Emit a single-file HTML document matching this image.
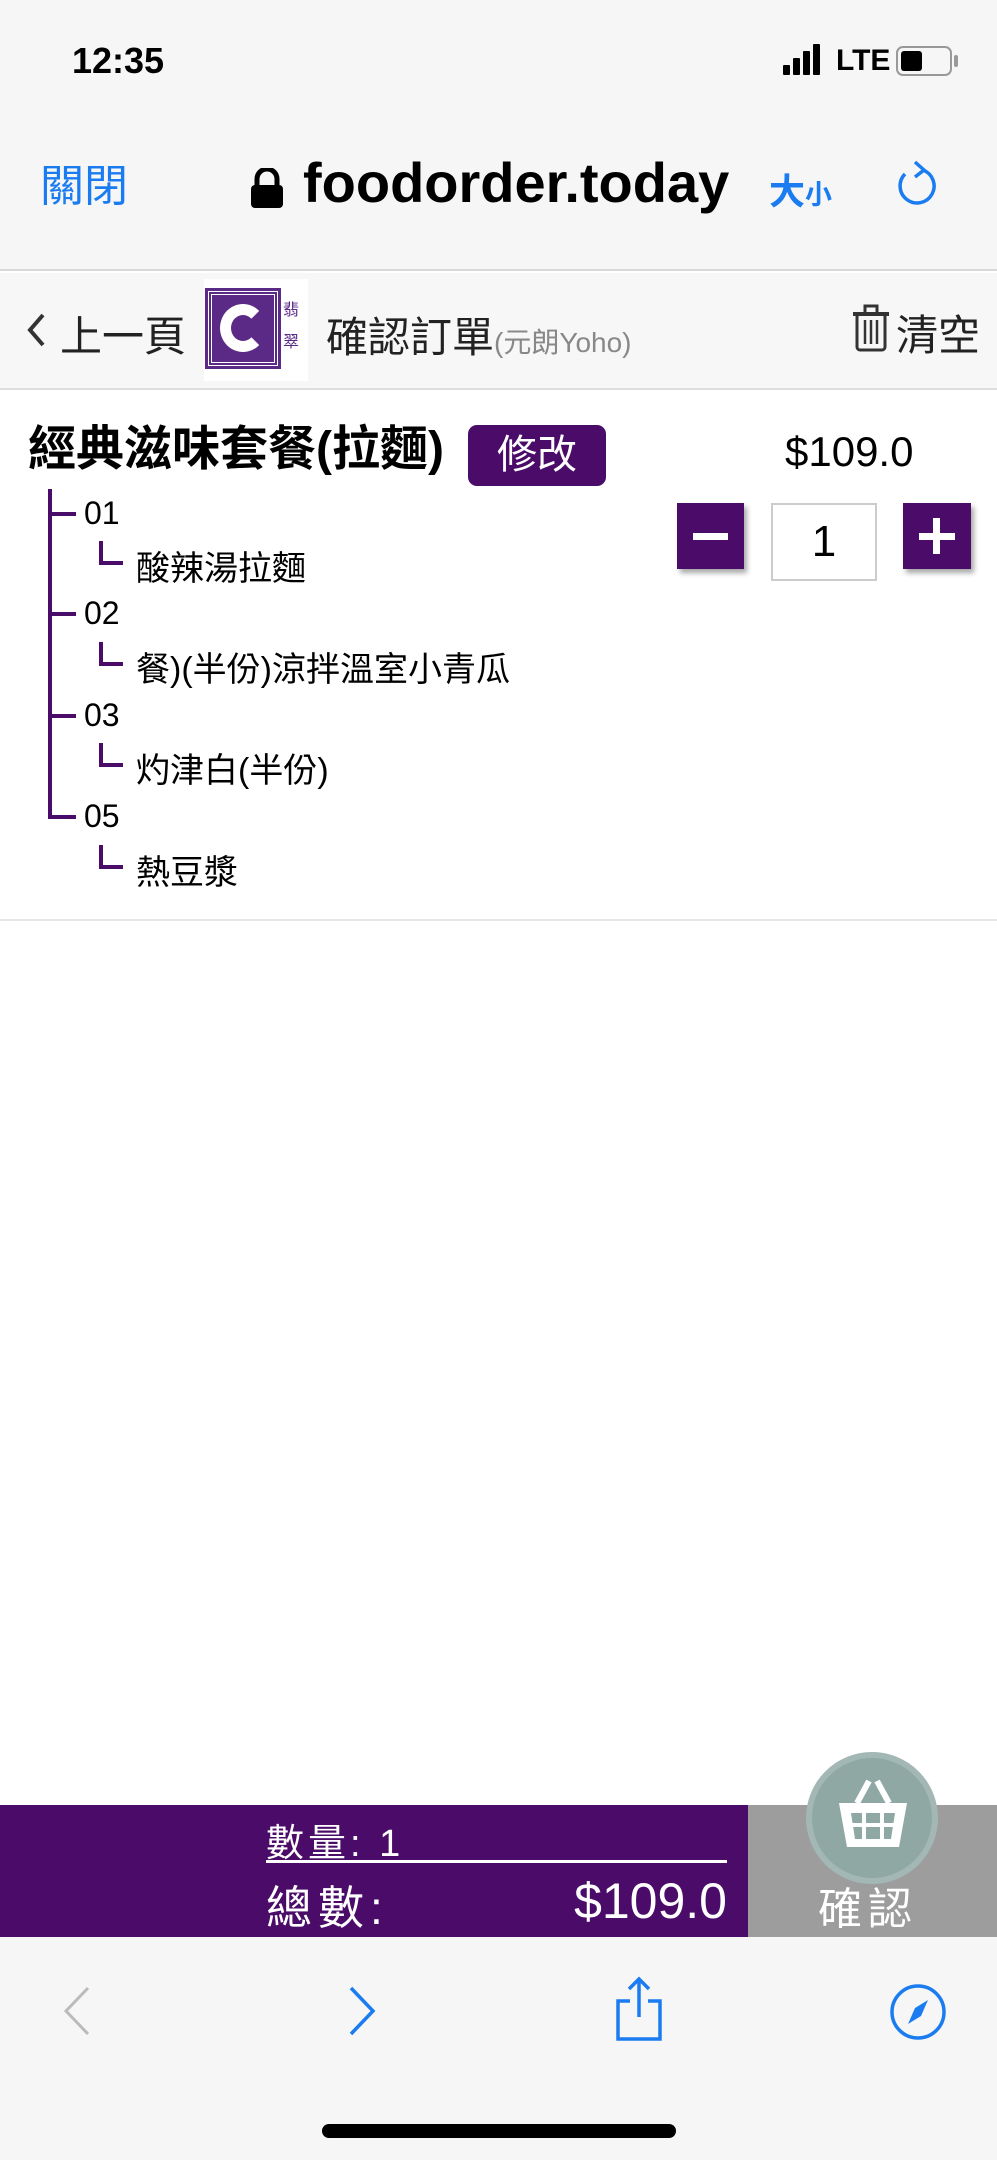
<!DOCTYPE html>
<html><head><meta charset="utf-8"><style>
*{margin:0;padding:0;box-sizing:border-box}
body{width:997px;height:2160px;position:relative;background:#fff;font-family:"Liberation Sans","Noto Sans CJK TC",sans-serif;overflow:hidden;color:#000}
.a{position:absolute;white-space:nowrap}
</style></head><body>
<div class="a" style="left:0;top:0;width:997px;height:271px;background:#f6f6f6;border-bottom:2px solid #d8d8d8"></div>
<div class="a" style="left:72px;top:40px;font-size:36px;font-weight:bold;">12:35</div>
<div class="a" style="left:783px;top:65px;width:7px;height:10px;background:#000;border-radius:1px"></div>
<div class="a" style="left:793px;top:58px;width:7px;height:17px;background:#000;border-radius:1px"></div>
<div class="a" style="left:803px;top:51px;width:7px;height:24px;background:#000;border-radius:1px"></div>
<div class="a" style="left:813px;top:44px;width:7px;height:31px;background:#000;border-radius:1px"></div>
<div class="a" style="left:836px;top:44px;font-size:30px;font-weight:bold;">LTE</div>
<div class="a" style="left:896px;top:46px;width:56px;height:30px;border:2px solid #999;border-radius:7px"></div>
<div class="a" style="left:901px;top:51px;width:21px;height:20px;background:#000;border-radius:3px"></div>
<div class="a" style="left:954px;top:55px;width:4px;height:12px;background:#999;border-radius:2px"></div>

<div class="a" style="left:40px;top:150px;font-size:44px;color:#1a7cf0">關閉</div>
<svg class="a" style="left:250px;top:168px" width="34" height="40"><path d="M7 18V11a10 10 0 0 1 20 0v7" fill="none" stroke="#000" stroke-width="5"/><rect x="1" y="17" width="32" height="23" rx="4"/></svg>
<div class="a" style="left:303px;top:150px;font-size:56px;font-weight:bold">foodorder.today</div>
<div class="a" style="left:769px;top:163px;font-size:36px;color:#1a7cf0;font-weight:bold">大<span style="font-size:27px">小</span></div>
<svg class="a" style="left:893px;top:160px" width="46" height="50"><path d="M30 10 A17 17 0 1 1 12 14" fill="none" stroke="#1a7cf0" stroke-width="3.5"/><path d="M22 2 L31 10 L22 17" fill="none" stroke="#1a7cf0" stroke-width="3.5"/></svg>

<div class="a" style="left:0;top:273px;width:997px;height:117px;background:#f7f7f7;border-bottom:2px solid #ddd"></div>
<svg class="a" style="left:26px;top:312px" width="20" height="36"><path d="M17 3 L4 18 L17 33" fill="none" stroke="#333" stroke-width="4"/></svg>
<div class="a" style="left:60px;top:303px;font-size:42px;color:#222">上一頁</div>
<div class="a" style="left:204px;top:279px;width:104px;height:102px;background:#fff"></div>
<div class="a" style="left:208px;top:291px;width:70px;height:75px;background:#5b2a86;border:4px double #fff;outline:3px solid #5b2a86"></div>
<div class="a" style="left:220px;top:304px;width:46px;height:48px;border:11px solid #fff;border-right-color:transparent;border-radius:50%"></div>
<div class="a" style="left:283px;top:295px;font-size:16px;color:#5b2a86;line-height:32px;width:20px">翡<br>翠</div>
<div class="a" style="left:326px;top:304px;font-size:42px;color:#222">確認訂單<span style="font-size:28px;color:#888">(元朗Yoho)</span></div>
<svg class="a" style="left:853px;top:304px" width="36" height="48"><rect x="4" y="10" width="28" height="36" rx="3" fill="none" stroke="#333" stroke-width="3"/><line x1="0" y1="10" x2="36" y2="10" stroke="#333" stroke-width="4"/><rect x="12" y="2" width="12" height="8" fill="none" stroke="#333" stroke-width="3"/><line x1="12" y1="16" x2="12" y2="40" stroke="#333" stroke-width="2.5"/><line x1="18" y1="16" x2="18" y2="40" stroke="#333" stroke-width="2.5"/><line x1="24" y1="16" x2="24" y2="40" stroke="#333" stroke-width="2.5"/></svg>
<div class="a" style="left:896px;top:302px;font-size:42px;color:#222">清空</div>

<div class="a" style="left:28px;top:424px;font-size:48px;font-weight:bold;line-height:1.1">經典滋味套餐(拉麵)</div>
<div class="a" style="left:468px;top:425px;width:138px;height:61px;background:#4b0c69;border-radius:9px;color:#fff;font-size:40px;text-align:center;line-height:61px">修改</div>
<div class="a" style="left:785px;top:428px;font-size:42px;">$109.0</div>
<div class="a" style="left:677px;top:503px;width:67px;height:66px;background:#4b0c69;box-shadow:3px 4px 5px rgba(0,0,0,.35)"><div style="position:absolute;left:16px;top:30px;width:35px;height:7px;background:#fff"></div></div>
<div class="a" style="left:771px;top:503px;width:106px;height:78px;border:2px solid #ccc;text-align:center;font-size:44px;line-height:74px">1</div>
<div class="a" style="left:903px;top:503px;width:68px;height:66px;background:#4b0c69;box-shadow:3px 4px 5px rgba(0,0,0,.35)"><div style="position:absolute;left:16px;top:30px;width:36px;height:7px;background:#fff"></div><div style="position:absolute;left:30px;top:15px;width:7px;height:36px;background:#fff"></div></div>

<div class="a" style="left:48px;top:489px;width:4px;height:330px;background:#4b0c69"></div>
<div class="a" style="left:48px;top:512px;width:28px;height:4px;background:#4b0c69"></div>
<div class="a" style="left:48px;top:612px;width:28px;height:4px;background:#4b0c69"></div>
<div class="a" style="left:48px;top:714px;width:28px;height:4px;background:#4b0c69"></div>
<div class="a" style="left:48px;top:815px;width:28px;height:4px;background:#4b0c69"></div>
<div class="a" style="left:84px;top:495px;font-size:32px;">01</div>
<div class="a" style="left:84px;top:595px;font-size:32px;">02</div>
<div class="a" style="left:84px;top:697px;font-size:32px;">03</div>
<div class="a" style="left:84px;top:798px;font-size:32px;">05</div>
<div class="a" style="left:99px;top:541px;width:24px;height:24px;border-left:4px solid #4b0c69;border-bottom:4px solid #4b0c69"></div>
<div class="a" style="left:99px;top:642px;width:24px;height:24px;border-left:4px solid #4b0c69;border-bottom:4px solid #4b0c69"></div>
<div class="a" style="left:99px;top:743px;width:24px;height:24px;border-left:4px solid #4b0c69;border-bottom:4px solid #4b0c69"></div>
<div class="a" style="left:99px;top:845px;width:24px;height:24px;border-left:4px solid #4b0c69;border-bottom:4px solid #4b0c69"></div>
<div class="a" style="left:136px;top:541px;font-size:34px;">酸辣湯拉麵</div>
<div class="a" style="left:136px;top:642px;font-size:34px;">餐)(半份)涼拌溫室小青瓜</div>
<div class="a" style="left:136px;top:743px;font-size:34px;">灼津白(半份)</div>
<div class="a" style="left:136px;top:845px;font-size:34px;">熱豆漿</div>
<div class="a" style="left:0;top:919px;width:997px;height:2px;background:#e6e6e6"></div>

<div class="a" style="left:0;top:1805px;width:748px;height:132px;background:#4b0c69"></div>
<div class="a" style="left:748px;top:1805px;width:249px;height:132px;background:#9d9d9d"></div>
<div class="a" style="left:266px;top:1812px;font-size:38px;color:#fff;letter-spacing:4px">數量: 1</div>
<div class="a" style="left:266px;top:1860px;width:461px;height:3px;background:#fff"></div>
<div class="a" style="left:266px;top:1872px;font-size:46px;color:#fff;letter-spacing:6px">總數:</div>
<div class="a" style="left:565px;top:1872px;width:162px;text-align:right;font-size:50px;color:#fff">$109.0</div>
<div class="a" style="left:806px;top:1752px;width:132px;height:132px;border-radius:50%;background:#8fa8a4;border:6px solid #a3b8b4"></div>
<svg class="a" style="left:835px;top:1775px" width="76" height="80"><path d="M22 28 L34 6 M54 28 L42 6" stroke="#fff" stroke-width="6" fill="none"/><path d="M4 28 H72 L64 72 H12 Z" fill="#fff"/><path d="M16 38 H60 L56 64 H20Z" fill="#8fa8a4"/><path d="M29 36 V66 M47 36 V66 M14 50 H62" stroke="#fff" stroke-width="4"/></svg>
<div class="a" style="left:818px;top:1888px;font-size:44px;line-height:1;color:#fff;letter-spacing:6px">確認</div>

<div class="a" style="left:0;top:1937px;width:997px;height:223px;background:#f6f6f6"></div>
<svg class="a" style="left:60px;top:1985px" width="34" height="52"><path d="M28 3 L6 26 L28 49" fill="none" stroke="#bbb" stroke-width="3"/></svg>
<svg class="a" style="left:345px;top:1985px" width="34" height="52"><path d="M6 3 L28 26 L6 49" fill="none" stroke="#1a7cf0" stroke-width="3.5"/></svg>
<svg class="a" style="left:612px;top:1975px" width="54" height="68"><path d="M18 26 H6 V64 H48 V26 H36" fill="none" stroke="#1a7cf0" stroke-width="3.5"/><path d="M27 42 V4 M17 14 L27 4 L37 14" fill="none" stroke="#1a7cf0" stroke-width="3.5"/></svg>
<svg class="a" style="left:888px;top:1982px" width="60" height="60"><circle cx="30" cy="30" r="26" fill="none" stroke="#1a7cf0" stroke-width="3.5"/><path d="M40 18 L33 34 L20 42 L27 26Z" fill="#1a7cf0"/></svg>
<div class="a" style="left:322px;top:2124px;width:354px;height:14px;background:#000;border-radius:7px"></div>
</body></html>
